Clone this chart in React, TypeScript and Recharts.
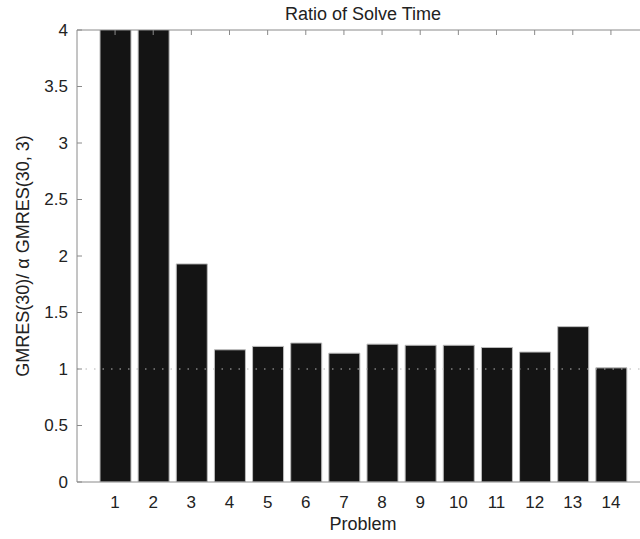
import { BarChart, Bar, XAxis, YAxis, ReferenceLine } from "recharts";

const FONT = "'Liberation Sans', Arial, Helvetica, sans-serif";
const AXIS = "#8a8a8a";
const BAR = "#141414";

// problems 1..14; the first two run past the top of the axis and get clipped
const problems = ["1", "2", "3", "4", "5", "6", "7", "8", "9", "10", "11", "12", "13", "14"];
const ratios = [4.8, 4.6, 1.93, 1.17, 1.2, 1.23, 1.14, 1.22, 1.21, 1.21, 1.19, 1.15, 1.375, 1.01];
const yTicks = [0, 0.5, 1, 1.5, 2, 2.5, 3, 3.5, 4];

const data = problems.map((p, i) => ({ p, r: ratios[i] }));

// left tick labels plus a short tick pointing into the plot
function YTick(props: any) {
  const { x, y, payload } = props;
  return (
    <g>
      <text
        x={x}
        y={y}
        textAnchor="end"
        dominantBaseline="central"
        fontSize={17}
        fontFamily={FONT}
        fill="#222"
      >
        {payload.value}
      </text>
      <line x1={x + 9} y1={y} x2={x + 14} y2={y} stroke={AXIS} strokeWidth={1} />
    </g>
  );
}

// top frame: tick pointing down into the plot, no label
function TopTick(props: any) {
  const { x, y } = props;
  return <line x1={x} y1={y} x2={x} y2={y + 5} stroke={AXIS} strokeWidth={1} />;
}

export default function App() {
  return (
    <div
      style={{
        position: "absolute",
        left: 0,
        top: 0,
        width: 640,
        height: 539,
        overflow: "hidden",
        background: "#fff",
      }}
    >
      <BarChart
        width={660}
        height={539}
        data={data}
        margin={{ top: 20, right: 11, bottom: 27, left: 17 }}
        barSize={31}
      >
        <text
          x={363}
          y={14}
          textAnchor="middle"
          dominantBaseline="central"
          fontSize={18}
          fontFamily={FONT}
          fill="#222"
        >
          Ratio of Solve Time
        </text>
        <XAxis
          dataKey="p"
          padding={{ left: 19, right: 19 }}
          height={30}
          stroke={AXIS}
          tickLine={false}
          tickMargin={8}
          tick={{ fontSize: 17, fontFamily: FONT, fill: "#222" }}
          interval={0}
          label={{
            value: "Problem",
            position: "insideBottom",
            offset: -18,
            fontSize: 18,
            fontFamily: FONT,
            fill: "#222",
          }}
        />
        <XAxis
          xAxisId="top"
          dataKey="p"
          orientation="top"
          padding={{ left: 19, right: 19 }}
          height={10}
          stroke={AXIS}
          tickLine={false}
          tickSize={0}
          tickMargin={0}
          tick={<TopTick />}
          interval={0}
        />
        <YAxis
          domain={[0, 4]}
          ticks={yTicks}
          allowDataOverflow
          width={60}
          stroke={AXIS}
          tickLine={false}
          tickSize={0}
          tickMargin={9}
          tick={<YTick />}
          label={{
            value: "GMRES(30)/ α GMRES(30, 3)",
            angle: -90,
            position: "insideLeft",
            offset: 0,
            dx: 6,
            fontSize: 18,
            fontFamily: FONT,
            fill: "#222",
            style: { textAnchor: "middle" },
          }}
        />
        <ReferenceLine y={1} stroke="#b5b5b5" strokeDasharray="1.5 7" />
        <Bar
          dataKey="r"
          fill={BAR}
          stroke="#bbb"
          strokeWidth={1}
          isAnimationActive={false}
        />
      </BarChart>
    </div>
  );
}
